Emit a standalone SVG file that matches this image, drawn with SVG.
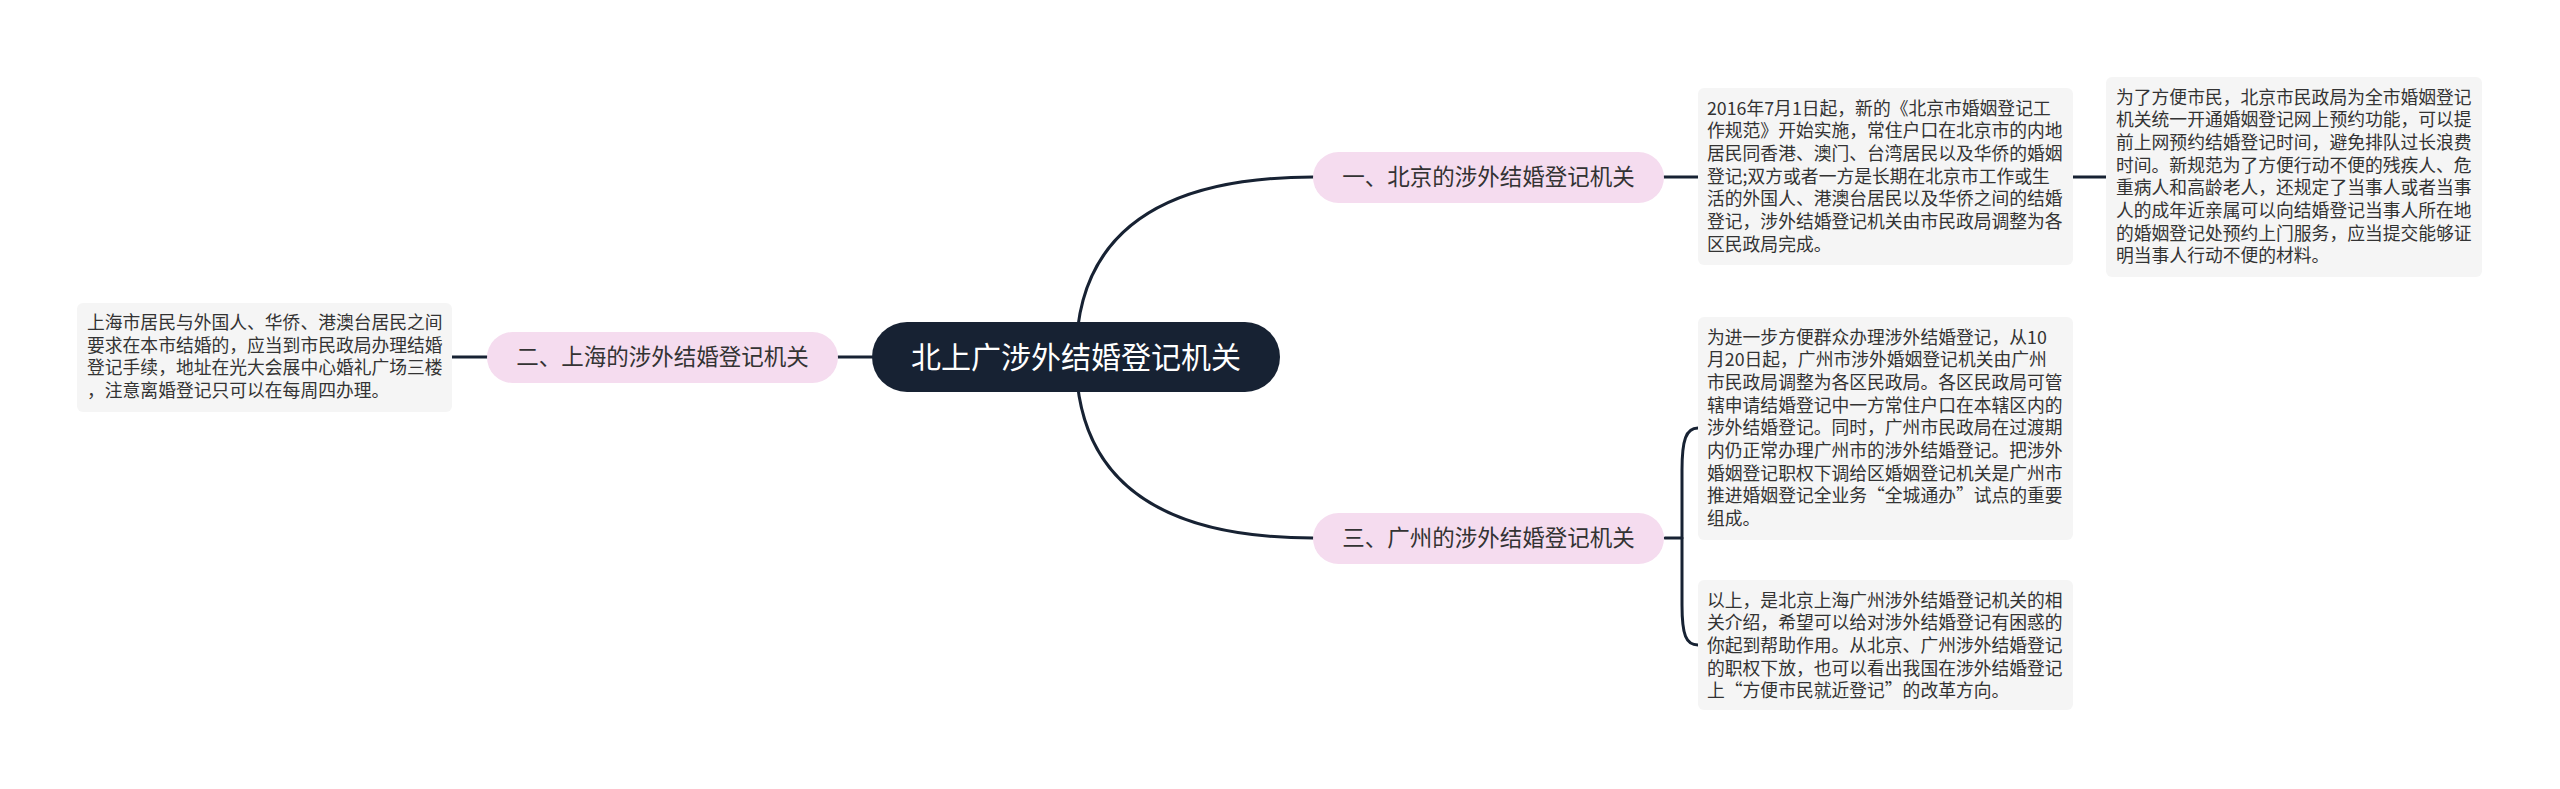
<svg xmlns="http://www.w3.org/2000/svg" width="2560" height="789" viewBox="0 0 2560 789">
<style>
.conn{fill:none;stroke:#172233;stroke-width:3;stroke-linecap:round}
.root rect{fill:#172233}
.root text{fill:#ffffff;font-family:"Noto Sans CJK SC","Noto Sans",sans-serif;font-size:30px;text-anchor:middle}
.main rect{fill:#f5dcef}
.main text{fill:#333333;font-family:"Noto Sans CJK SC","Noto Sans",sans-serif;font-size:22.5px;text-anchor:middle}
.leaf rect{fill:#f5f5f5}
.leaf text{fill:#333333;font-family:"Noto Sans CJK SC","Noto Sans",sans-serif;font-size:17.8px}
</style>
<rect width="2560" height="789" fill="#ffffff"/>
<g id="connectors">
<path class="conn" d="M1076,357 Q1076,177 1313,177"/>
<path class="conn" d="M1076,357 Q1076,538 1313,538"/>
<path class="conn" d="M872,357 L838,357"/>
<path class="conn" d="M487,357 L452,357"/>
<path class="conn" d="M1664,177 L1698,177"/>
<path class="conn" d="M2073,177 L2106,177"/>
<path class="conn" d="M1665,538 L1682,538"/>
<path class="conn" d="M1698,428 C1686,428 1682,440 1682,470 L1682,605 C1682,635 1686,645 1698,645"/>
</g>
<g id="root" class="root">
<rect x="872" y="322" width="408" height="70" rx="35"/>
<text x="1076" y="368">北上广涉外结婚登记机关</text>
</g>
<g id="n1" class="main">
<rect x="1313" y="152" width="351" height="51" rx="25.5"/>
<text x="1488.5" y="185">一、北京的涉外结婚登记机关</text>
</g>
<g id="n2" class="main">
<rect x="487" y="332" width="351" height="51" rx="25.5"/>
<text x="662.5" y="365">二、上海的涉外结婚登记机关</text>
</g>
<g id="n3" class="main">
<rect x="1313" y="513" width="351" height="51" rx="25.5"/>
<text x="1488.5" y="546">三、广州的涉外结婚登记机关</text>
</g>
<g id="bj1" class="leaf">
<rect x="1698" y="88" width="375" height="177" rx="6"/>
<text x="1707" y="114.5">2016年7月1日起，新的《北京市婚姻登记工</text>
<text x="1707" y="137.2">作规范》开始实施，常住户口在北京市的内地</text>
<text x="1707" y="159.9">居民同香港、澳门、台湾居民以及华侨的婚姻</text>
<text x="1707" y="182.6">登记;双方或者一方是长期在北京市工作或生</text>
<text x="1707" y="205.3">活的外国人、港澳台居民以及华侨之间的结婚</text>
<text x="1707" y="228">登记，涉外结婚登记机关由市民政局调整为各</text>
<text x="1707" y="250.7">区民政局完成。</text>
</g>
<g id="bj2" class="leaf">
<rect x="2106" y="77" width="376" height="200" rx="6"/>
<text x="2116" y="103.5">为了方便市民，北京市民政局为全市婚姻登记</text>
<text x="2116" y="126.2">机关统一开通婚姻登记网上预约功能，可以提</text>
<text x="2116" y="148.9">前上网预约结婚登记时间，避免排队过长浪费</text>
<text x="2116" y="171.6">时间。新规范为了方便行动不便的残疾人、危</text>
<text x="2116" y="194.3">重病人和高龄老人，还规定了当事人或者当事</text>
<text x="2116" y="217">人的成年近亲属可以向结婚登记当事人所在地</text>
<text x="2116" y="239.7">的婚姻登记处预约上门服务，应当提交能够证</text>
<text x="2116" y="262.4">明当事人行动不便的材料。</text>
</g>
<g id="sh" class="leaf">
<rect x="77" y="303" width="375" height="109" rx="6"/>
<text x="87" y="329">上海市居民与外国人、华侨、港澳台居民之间</text>
<text x="87" y="351.7">要求在本市结婚的，应当到市民政局办理结婚</text>
<text x="87" y="374.4">登记手续，地址在光大会展中心婚礼广场三楼</text>
<text x="87" y="397.1">，注意离婚登记只可以在每周四办理。</text>
</g>
<g id="gz1" class="leaf">
<rect x="1698" y="317" width="375" height="223" rx="6"/>
<text x="1707" y="343.5">为进一步方便群众办理涉外结婚登记，从10</text>
<text x="1707" y="366.2">月20日起，广州市涉外婚姻登记机关由广州</text>
<text x="1707" y="388.9">市民政局调整为各区民政局。各区民政局可管</text>
<text x="1707" y="411.6">辖申请结婚登记中一方常住户口在本辖区内的</text>
<text x="1707" y="434.3">涉外结婚登记。同时，广州市民政局在过渡期</text>
<text x="1707" y="457">内仍正常办理广州市的涉外结婚登记。把涉外</text>
<text x="1707" y="479.7">婚姻登记职权下调给区婚姻登记机关是广州市</text>
<text x="1707" y="502.4">推进婚姻登记全业务“全城通办”试点的重要</text>
<text x="1707" y="525.1">组成。</text>
</g>
<g id="gz2" class="leaf">
<rect x="1698" y="580" width="375" height="130" rx="6"/>
<text x="1707" y="606.5">以上，是北京上海广州涉外结婚登记机关的相</text>
<text x="1707" y="629.2">关介绍，希望可以给对涉外结婚登记有困惑的</text>
<text x="1707" y="651.9">你起到帮助作用。从北京、广州涉外结婚登记</text>
<text x="1707" y="674.6">的职权下放，也可以看出我国在涉外结婚登记</text>
<text x="1707" y="697.3">上“方便市民就近登记”的改革方向。</text>
</g>
</svg>
